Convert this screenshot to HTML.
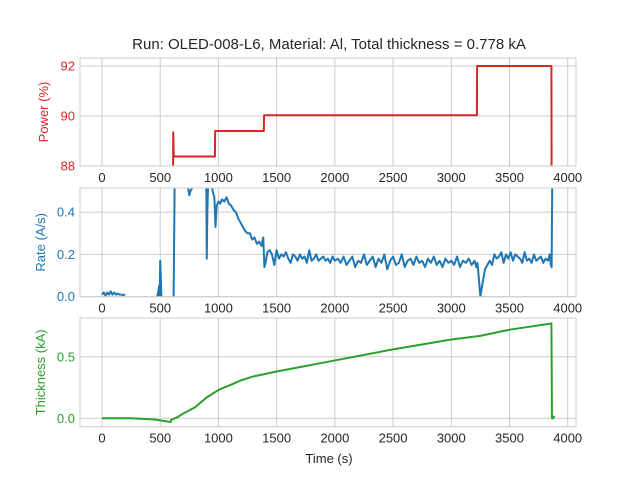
<!DOCTYPE html>
<html><head><meta charset="utf-8"><style>
body{margin:0;background:#fff;}
svg{display:block;font-family:"Liberation Sans","DejaVu Sans",sans-serif;}
</style></head><body>
<svg id="fig" width="640" height="480" viewBox="0 0 640 480">
<rect width="640" height="480" fill="#fff"/>
<text x="329" y="49" text-anchor="middle" font-size="15" fill="#262626">Run: OLED-008-L6, Material: Al, Total thickness = 0.778 kA</text>
<g id="g"></g>
</svg>
<script>
// ---- data ----
const xTicks = [0,500,1000,1500,2000,2500,3000,3500,4000];
const powerT = [610,612,616,970,972,1390,1392,3220,3222,3860,3862];
const powerV = [87.5,89.35,88.38,88.38,89.4,89.4,90.03,90.03,92.0,92.0,87.0];
const powerTicks = [88,90,92];
const rateT = [0,15,30,45,60,75,90,105,120,135,150,165,180,200,null,
 475,485,490,495,500,505,510,515,null,
 615,625,640,700,730,750,760,780,800,850,880,895,900,905,915,930,950,965,975,985,1000,1015,1030,1050,1070,1090,1110,1130,1150,1170,1190,1210,1230,1250,1270,1290,1310,1330,1350,1370,1385,1395,1405,1420,1440,1460,1480,1500,1520,1540,1560,1580,1600,1620,1640,1660,1680,1700,1720,1740,1760,1780,1800,1820,1840,1860,1880,1900,1920,1940,1960,1980,2000,2025,2050,2075,2100,2125,2150,2175,2200,2225,2250,2275,2300,2325,2350,2375,2400,2425,2450,2475,2500,2525,2550,2575,2600,2625,2650,2675,2700,2725,2750,2775,2800,2825,2850,2875,2900,2925,2950,2975,3000,3025,3050,3075,3100,3125,3150,3175,3200,3215,3225,3235,3250,3270,3290,3310,3330,3350,3370,3390,3410,3430,3450,3470,3490,3510,3530,3550,3570,3590,3610,3630,3650,3670,3690,3710,3730,3750,3770,3790,3810,3830,3845,3855,3862,3868];
const rateV = [0.01,0.02,0.005,0.02,0.01,0.025,0.01,0.02,0.01,0.015,0.01,0.01,0.008,0.01,null,
 0.0,0.03,0.05,0.0,0.17,0.1,0.0,0.0,null,
 0.0,0.6,0.6,0.6,0.55,0.48,0.5,0.52,0.6,0.6,0.58,0.6,0.18,0.4,0.6,0.6,0.5,0.47,0.33,0.43,0.45,0.44,0.46,0.45,0.47,0.44,0.43,0.41,0.4,0.37,0.35,0.33,0.31,0.3,0.3,0.27,0.28,0.25,0.26,0.24,0.28,0.14,0.16,0.21,0.22,0.2,0.15,0.22,0.18,0.2,0.19,0.21,0.18,0.16,0.2,0.19,0.17,0.2,0.18,0.19,0.16,0.22,0.17,0.18,0.2,0.17,0.18,0.19,0.17,0.18,0.16,0.19,0.17,0.18,0.16,0.19,0.15,0.17,0.19,0.14,0.17,0.16,0.2,0.15,0.17,0.19,0.14,0.18,0.16,0.2,0.13,0.17,0.19,0.15,0.16,0.2,0.14,0.17,0.18,0.15,0.19,0.16,0.17,0.14,0.18,0.16,0.19,0.15,0.17,0.14,0.18,0.16,0.17,0.15,0.19,0.14,0.17,0.16,0.18,0.15,0.17,0.14,0.16,0.1,0.0,0.07,0.13,0.15,0.17,0.15,0.2,0.18,0.19,0.21,0.16,0.2,0.18,0.21,0.17,0.2,0.19,0.18,0.16,0.21,0.17,0.18,0.16,0.2,0.17,0.18,0.19,0.16,0.18,0.17,0.2,0.15,0.14,0.6,0.6];
const rateTicks = [0.0,0.2,0.4];
const thickT = [0,250,450,590,595,605,650,700,800,900,1000,1100,1200,1300,1400,1500,2000,2500,3000,3250,3300,3500,3860,3865,3875,3885];
const thickV = [0,0,-0.01,-0.03,-0.01,-0.01,0.01,0.04,0.09,0.17,0.23,0.27,0.31,0.34,0.36,0.38,0.47,0.56,0.64,0.67,0.68,0.72,0.77,0.0,0.0,0.02];
const thickTicks = [0.0,0.5];

// ---- layout ----
const L=80,R=576;
const xs=v=>102+v*(465.7/4000);
const panels=[
 {top:58,bot:166,y0:88,y1:92.32,ticks:powerTicks,fmt:v=>String(v),color:'#d62728',label:'Power (%)',T:powerT,V:powerV,name:'power',lx:48},
 {top:188,bot:296.7,y0:0,y1:0.514,ticks:rateTicks,fmt:v=>v.toFixed(1),color:'#1f77b4',label:'Rate (A/s)',T:rateT,V:rateV,name:'rate',lx:45},
 {top:318,bot:426.7,y0:-0.0685,y1:0.815,ticks:thickTicks,fmt:v=>v.toFixed(1),color:'#2ca02c',label:'Thickness (kA)',T:thickT,V:thickV,name:'thickness',lx:45}
];
const NS='http://www.w3.org/2000/svg';
const g=document.getElementById('g');
function mk(tag,attrs,parent){const e=document.createElementNS(NS,tag);for(const k in attrs)e.setAttribute(k,attrs[k]);(parent||g).appendChild(e);return e;}
panels.forEach((p,i)=>{
 const ys=v=>p.bot-(v-p.y0)/(p.y1-p.y0)*(p.bot-p.top);
 const pg=mk('g',{});
 
 
 const cp=mk('clipPath',{id:'c'+i},pg);
 mk('rect',{x:L,y:p.top,width:R-L,height:p.bot-p.top},cp);
 xTicks.forEach(t=>{
  const x=xs(t);
  const gl=mk('line',{x1:x,x2:x,y1:p.top,y2:p.bot,stroke:'#cccccc','stroke-width':1},pg);
  
  
  const tl=mk('text',{x:x,y:p.bot+16,'text-anchor':'middle','font-size':13,fill:'#262626'},pg);
  tl.textContent=t;
  
  
 });
 p.ticks.forEach(t=>{
  const y=ys(t);
  const gl=mk('line',{x1:L,x2:R,y1:y,y2:y,stroke:'#cccccc','stroke-width':1},pg);
  
  
  const tl=mk('text',{x:75,y:y+4.5,'text-anchor':'end','font-size':13,fill:p.color},pg);
  tl.textContent=p.fmt(t);
  
  
 });
 let d='',pen=false;
 p.T.forEach((t,k)=>{
  const v=p.V[k];
  if(t===null||v===null){pen=false;return;}
  d+=(pen?'L':'M')+xs(t).toFixed(2)+','+ys(v).toFixed(2);pen=true;
 });
 const ln=mk('path',{d:d,fill:'none',stroke:p.color,'stroke-width':2,'stroke-linejoin':'round','clip-path':'url(#c'+i+')'},pg);
 
 
 const fr=mk('rect',{x:L,y:p.top,width:R-L,height:p.bot-p.top,fill:'none',stroke:'#cccccc','stroke-width':1},pg);
 
 
 const cy=(p.top+p.bot)/2;
 const yl=mk('text',{x:0,y:0,'text-anchor':'middle','font-size':13,fill:p.color,transform:'translate('+p.lx+','+cy+') rotate(-90)'},pg);
 yl.textContent=p.label;
 
 
});
const xl=mk('text',{x:329,y:463,'text-anchor':'middle','font-size':13,fill:'#262626'});
xl.textContent='Time (s)';


</script>
</body></html>
